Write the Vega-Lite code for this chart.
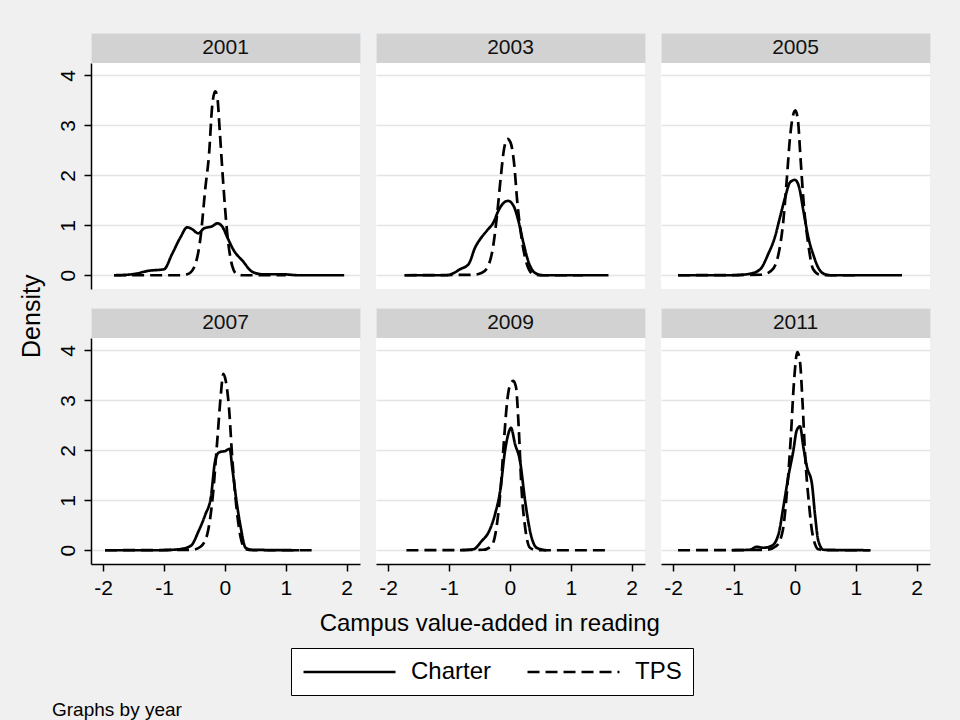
{
  "$schema": "https://vega.github.io/schema/vega-lite/v6.json",
  "background": "#f0f0f0",
  "padding": {"left": 20, "top": 32, "right": 30, "bottom": 0},
  "title": {"text": "Graphs by year", "orient": "bottom", "anchor": "start", "frame": "bounds", "dx": 32, "offset": 5, "fontSize": 19, "fontWeight": "normal", "color": "black", "font": "Liberation Sans"},
  "config": {
    "font": "Liberation Sans",
    "view": {"fill": "white", "stroke": null},
    "axis": {"domainColor": "black", "tickColor": "black", "domainWidth": 1.5, "tickWidth": 1.5, "tickSize": 7, "labelFontSize": 21, "labelColor": "black", "gridColor": "#e4e4e4", "gridWidth": 1.6, "titleFontWeight": "normal", "titleColor": "black", "titleFontSize": 24},
    "legend": {"orient": "none", "direction": "horizontal", "symbolType": "M-1,0H7", "symbolSize": 529, "symbolStrokeWidth": 4, "symbolStrokeColor": "black", "labelFontSize": 24, "labelColor": "black", "labelOffset": 83, "columnPadding": 30, "padding": 11, "strokeColor": "black", "fillColor": "white"},
    "title": {"color": "black", "fontWeight": "normal", "font": "Liberation Sans"},
    "line": {"color": "black", "interpolate": "monotone", "strokeWidth": 2.7}
  },
  "datasets": {
    "density": [
      {"year":"2001","type":"Charter","x":-1.82,"density":0},
      {"year":"2001","type":"Charter","x":-1.52,"density":0.02},
      {"year":"2001","type":"Charter","x":-1.25,"density":0.09},
      {"year":"2001","type":"Charter","x":-1.0,"density":0.12},
      {"year":"2001","type":"Charter","x":-0.87,"density":0.42},
      {"year":"2001","type":"Charter","x":-0.73,"density":0.76},
      {"year":"2001","type":"Charter","x":-0.62,"density":0.96},
      {"year":"2001","type":"Charter","x":-0.535,"density":0.92},
      {"year":"2001","type":"Charter","x":-0.44,"density":0.84},
      {"year":"2001","type":"Charter","x":-0.34,"density":0.94},
      {"year":"2001","type":"Charter","x":-0.21,"density":0.98},
      {"year":"2001","type":"Charter","x":-0.125,"density":1.04},
      {"year":"2001","type":"Charter","x":-0.04,"density":0.97},
      {"year":"2001","type":"Charter","x":0.04,"density":0.76},
      {"year":"2001","type":"Charter","x":0.15,"density":0.49},
      {"year":"2001","type":"Charter","x":0.29,"density":0.29},
      {"year":"2001","type":"Charter","x":0.45,"density":0.07},
      {"year":"2001","type":"Charter","x":0.62,"density":0.02},
      {"year":"2001","type":"Charter","x":0.94,"density":0.02},
      {"year":"2001","type":"Charter","x":1.22,"density":0},
      {"year":"2001","type":"Charter","x":1.96,"density":0},
      {"year":"2001","type":"TPS","x":-1.82,"density":0},
      {"year":"2001","type":"TPS","x":-0.76,"density":0},
      {"year":"2001","type":"TPS","x":-0.62,"density":0.02},
      {"year":"2001","type":"TPS","x":-0.51,"density":0.15},
      {"year":"2001","type":"TPS","x":-0.40,"density":0.76},
      {"year":"2001","type":"TPS","x":-0.32,"density":1.76},
      {"year":"2001","type":"TPS","x":-0.26,"density":2.43},
      {"year":"2001","type":"TPS","x":-0.21,"density":3.37},
      {"year":"2001","type":"TPS","x":-0.16,"density":3.68},
      {"year":"2001","type":"TPS","x":-0.125,"density":3.57},
      {"year":"2001","type":"TPS","x":-0.085,"density":2.9},
      {"year":"2001","type":"TPS","x":-0.03,"density":1.89},
      {"year":"2001","type":"TPS","x":0.04,"density":0.82},
      {"year":"2001","type":"TPS","x":0.12,"density":0.19},
      {"year":"2001","type":"TPS","x":0.2,"density":0.02},
      {"year":"2001","type":"TPS","x":0.3,"density":0},
      {"year":"2001","type":"TPS","x":1.0,"density":0},
      {"year":"2003","type":"Charter","x":-1.73,"density":0},
      {"year":"2003","type":"Charter","x":-1.04,"density":0},
      {"year":"2003","type":"Charter","x":-0.95,"density":0.03},
      {"year":"2003","type":"Charter","x":-0.82,"density":0.12},
      {"year":"2003","type":"Charter","x":-0.68,"density":0.22},
      {"year":"2003","type":"Charter","x":-0.57,"density":0.56},
      {"year":"2003","type":"Charter","x":-0.49,"density":0.72},
      {"year":"2003","type":"Charter","x":-0.38,"density":0.89},
      {"year":"2003","type":"Charter","x":-0.27,"density":1.06},
      {"year":"2003","type":"Charter","x":-0.19,"density":1.29},
      {"year":"2003","type":"Charter","x":-0.11,"density":1.44},
      {"year":"2003","type":"Charter","x":-0.03,"density":1.49},
      {"year":"2003","type":"Charter","x":0.06,"density":1.39},
      {"year":"2003","type":"Charter","x":0.14,"density":1.09},
      {"year":"2003","type":"Charter","x":0.22,"density":0.66},
      {"year":"2003","type":"Charter","x":0.30,"density":0.29},
      {"year":"2003","type":"Charter","x":0.41,"density":0.05},
      {"year":"2003","type":"Charter","x":0.55,"density":0},
      {"year":"2003","type":"Charter","x":1.62,"density":0},
      {"year":"2003","type":"TPS","x":-1.73,"density":0},
      {"year":"2003","type":"TPS","x":-0.6,"density":0.01},
      {"year":"2003","type":"TPS","x":-0.46,"density":0.05},
      {"year":"2003","type":"TPS","x":-0.355,"density":0.19},
      {"year":"2003","type":"TPS","x":-0.27,"density":0.62},
      {"year":"2003","type":"TPS","x":-0.21,"density":1.22},
      {"year":"2003","type":"TPS","x":-0.15,"density":1.96},
      {"year":"2003","type":"TPS","x":-0.10,"density":2.5},
      {"year":"2003","type":"TPS","x":-0.04,"density":2.73},
      {"year":"2003","type":"TPS","x":0.01,"density":2.66},
      {"year":"2003","type":"TPS","x":0.07,"density":2.23},
      {"year":"2003","type":"TPS","x":0.12,"density":1.49},
      {"year":"2003","type":"TPS","x":0.19,"density":0.76},
      {"year":"2003","type":"TPS","x":0.28,"density":0.22},
      {"year":"2003","type":"TPS","x":0.385,"density":0.02},
      {"year":"2003","type":"TPS","x":0.5,"density":0},
      {"year":"2003","type":"TPS","x":1.2,"density":0},
      {"year":"2005","type":"Charter","x":-1.92,"density":0},
      {"year":"2005","type":"Charter","x":-1.01,"density":0},
      {"year":"2005","type":"Charter","x":-0.74,"density":0.03},
      {"year":"2005","type":"Charter","x":-0.57,"density":0.12},
      {"year":"2005","type":"Charter","x":-0.44,"density":0.42},
      {"year":"2005","type":"Charter","x":-0.33,"density":0.76},
      {"year":"2005","type":"Charter","x":-0.245,"density":1.16},
      {"year":"2005","type":"Charter","x":-0.16,"density":1.56},
      {"year":"2005","type":"Charter","x":-0.08,"density":1.86},
      {"year":"2005","type":"Charter","x":0.0,"density":1.91},
      {"year":"2005","type":"Charter","x":0.07,"density":1.76},
      {"year":"2005","type":"Charter","x":0.14,"density":1.29},
      {"year":"2005","type":"Charter","x":0.22,"density":0.76},
      {"year":"2005","type":"Charter","x":0.30,"density":0.42},
      {"year":"2005","type":"Charter","x":0.385,"density":0.15},
      {"year":"2005","type":"Charter","x":0.495,"density":0.02},
      {"year":"2005","type":"Charter","x":0.6,"density":0},
      {"year":"2005","type":"Charter","x":1.76,"density":0},
      {"year":"2005","type":"TPS","x":-1.92,"density":0},
      {"year":"2005","type":"TPS","x":-0.55,"density":0.01},
      {"year":"2005","type":"TPS","x":-0.38,"density":0.1},
      {"year":"2005","type":"TPS","x":-0.27,"density":0.42},
      {"year":"2005","type":"TPS","x":-0.19,"density":1.09},
      {"year":"2005","type":"TPS","x":-0.135,"density":1.89},
      {"year":"2005","type":"TPS","x":-0.08,"density":2.76},
      {"year":"2005","type":"TPS","x":-0.036,"density":3.17},
      {"year":"2005","type":"TPS","x":0.007,"density":3.30},
      {"year":"2005","type":"TPS","x":0.05,"density":3.10},
      {"year":"2005","type":"TPS","x":0.095,"density":2.3},
      {"year":"2005","type":"TPS","x":0.15,"density":1.36},
      {"year":"2005","type":"TPS","x":0.22,"density":0.62},
      {"year":"2005","type":"TPS","x":0.30,"density":0.12},
      {"year":"2005","type":"TPS","x":0.41,"density":0.01},
      {"year":"2005","type":"TPS","x":0.5,"density":0},
      {"year":"2005","type":"TPS","x":1.0,"density":0},
      {"year":"2007","type":"Charter","x":-1.97,"density":0},
      {"year":"2007","type":"Charter","x":-1.08,"density":0},
      {"year":"2007","type":"Charter","x":-0.755,"density":0.02},
      {"year":"2007","type":"Charter","x":-0.56,"density":0.09},
      {"year":"2007","type":"Charter","x":-0.43,"density":0.39},
      {"year":"2007","type":"Charter","x":-0.32,"density":0.72},
      {"year":"2007","type":"Charter","x":-0.23,"density":1.06},
      {"year":"2007","type":"Charter","x":-0.16,"density":1.79},
      {"year":"2007","type":"Charter","x":-0.097,"density":1.96},
      {"year":"2007","type":"Charter","x":0.01,"density":1.99},
      {"year":"2007","type":"Charter","x":0.08,"density":2.03},
      {"year":"2007","type":"Charter","x":0.12,"density":1.66},
      {"year":"2007","type":"Charter","x":0.19,"density":0.99},
      {"year":"2007","type":"Charter","x":0.26,"density":0.46},
      {"year":"2007","type":"Charter","x":0.34,"density":0.05},
      {"year":"2007","type":"Charter","x":0.45,"density":0.01},
      {"year":"2007","type":"Charter","x":1.22,"density":0},
      {"year":"2007","type":"TPS","x":-1.97,"density":0},
      {"year":"2007","type":"TPS","x":-0.535,"density":0.01},
      {"year":"2007","type":"TPS","x":-0.40,"density":0.07},
      {"year":"2007","type":"TPS","x":-0.29,"density":0.32},
      {"year":"2007","type":"TPS","x":-0.196,"density":1.12},
      {"year":"2007","type":"TPS","x":-0.125,"density":2.2},
      {"year":"2007","type":"TPS","x":-0.07,"density":3.07},
      {"year":"2007","type":"TPS","x":-0.026,"density":3.53},
      {"year":"2007","type":"TPS","x":0.013,"density":3.4},
      {"year":"2007","type":"TPS","x":0.067,"density":2.86},
      {"year":"2007","type":"TPS","x":0.12,"density":1.86},
      {"year":"2007","type":"TPS","x":0.19,"density":0.86},
      {"year":"2007","type":"TPS","x":0.26,"density":0.25},
      {"year":"2007","type":"TPS","x":0.34,"density":0.02},
      {"year":"2007","type":"TPS","x":0.45,"density":0},
      {"year":"2007","type":"TPS","x":1.43,"density":0},
      {"year":"2009","type":"Charter","x":-0.82,"density":0},
      {"year":"2009","type":"Charter","x":-0.60,"density":0.02},
      {"year":"2009","type":"Charter","x":-0.46,"density":0.19},
      {"year":"2009","type":"Charter","x":-0.355,"density":0.35},
      {"year":"2009","type":"Charter","x":-0.245,"density":0.72},
      {"year":"2009","type":"Charter","x":-0.16,"density":1.19},
      {"year":"2009","type":"Charter","x":-0.08,"density":1.99},
      {"year":"2009","type":"Charter","x":-0.026,"density":2.33},
      {"year":"2009","type":"Charter","x":0.018,"density":2.45},
      {"year":"2009","type":"Charter","x":0.084,"density":2.13},
      {"year":"2009","type":"Charter","x":0.166,"density":1.79},
      {"year":"2009","type":"Charter","x":0.25,"density":0.99},
      {"year":"2009","type":"Charter","x":0.33,"density":0.39},
      {"year":"2009","type":"Charter","x":0.44,"density":0.05},
      {"year":"2009","type":"Charter","x":0.6,"density":0},
      {"year":"2009","type":"TPS","x":-1.70,"density":0},
      {"year":"2009","type":"TPS","x":-0.44,"density":0.01},
      {"year":"2009","type":"TPS","x":-0.30,"density":0.09},
      {"year":"2009","type":"TPS","x":-0.22,"density":0.46},
      {"year":"2009","type":"TPS","x":-0.15,"density":1.26},
      {"year":"2009","type":"TPS","x":-0.097,"density":2.2},
      {"year":"2009","type":"TPS","x":-0.043,"density":3.0},
      {"year":"2009","type":"TPS","x":0.0,"density":3.3},
      {"year":"2009","type":"TPS","x":0.056,"density":3.39},
      {"year":"2009","type":"TPS","x":0.1,"density":3.27},
      {"year":"2009","type":"TPS","x":0.145,"density":2.46},
      {"year":"2009","type":"TPS","x":0.19,"density":1.26},
      {"year":"2009","type":"TPS","x":0.25,"density":0.46},
      {"year":"2009","type":"TPS","x":0.33,"density":0.05},
      {"year":"2009","type":"TPS","x":0.44,"density":0},
      {"year":"2009","type":"TPS","x":1.62,"density":0},
      {"year":"2011","type":"Charter","x":-1.04,"density":0},
      {"year":"2011","type":"Charter","x":-0.74,"density":0.01},
      {"year":"2011","type":"Charter","x":-0.63,"density":0.07},
      {"year":"2011","type":"Charter","x":-0.52,"density":0.05},
      {"year":"2011","type":"Charter","x":-0.38,"density":0.09},
      {"year":"2011","type":"Charter","x":-0.27,"density":0.32},
      {"year":"2011","type":"Charter","x":-0.19,"density":0.86},
      {"year":"2011","type":"Charter","x":-0.11,"density":1.46},
      {"year":"2011","type":"Charter","x":-0.026,"density":1.99},
      {"year":"2011","type":"Charter","x":0.03,"density":2.40},
      {"year":"2011","type":"Charter","x":0.084,"density":2.48},
      {"year":"2011","type":"Charter","x":0.14,"density":2.06},
      {"year":"2011","type":"Charter","x":0.2,"density":1.66},
      {"year":"2011","type":"Charter","x":0.28,"density":1.33},
      {"year":"2011","type":"Charter","x":0.33,"density":0.72},
      {"year":"2011","type":"Charter","x":0.385,"density":0.19},
      {"year":"2011","type":"Charter","x":0.47,"density":0.01},
      {"year":"2011","type":"Charter","x":1.24,"density":0},
      {"year":"2011","type":"TPS","x":-1.92,"density":0},
      {"year":"2011","type":"TPS","x":-0.46,"density":0.01},
      {"year":"2011","type":"TPS","x":-0.30,"density":0.09},
      {"year":"2011","type":"TPS","x":-0.2,"density":0.39},
      {"year":"2011","type":"TPS","x":-0.125,"density":1.26},
      {"year":"2011","type":"TPS","x":-0.07,"density":2.2},
      {"year":"2011","type":"TPS","x":-0.015,"density":3.37},
      {"year":"2011","type":"TPS","x":0.04,"density":3.97},
      {"year":"2011","type":"TPS","x":0.084,"density":3.77},
      {"year":"2011","type":"TPS","x":0.128,"density":2.9},
      {"year":"2011","type":"TPS","x":0.17,"density":1.86},
      {"year":"2011","type":"TPS","x":0.227,"density":0.99},
      {"year":"2011","type":"TPS","x":0.29,"density":0.32},
      {"year":"2011","type":"TPS","x":0.385,"density":0.02},
      {"year":"2011","type":"TPS","x":0.5,"density":0},
      {"year":"2011","type":"TPS","x":1.24,"density":0}
    ]
  },
  "vconcat": [
    {
      "title": {"text": "Density", "orient": "left", "anchor": "middle", "frame": "bounds", "offset": 12, "fontSize": 25, "dx": 18},
      "hconcat": [
        {
          "title": {"text": "Campus value-added in reading", "orient": "bottom", "anchor": "middle", "frame": "bounds", "offset": 14, "fontSize": 24, "dx": -4},
          "vconcat": [
            {
              "hconcat": [
                {"vconcat": [
                  {"width": 269, "height": 30, "view": {"fill": "#d2d2d2", "stroke": "#dfe5e9"}, "data": {"values": [{"year": "2001"}]}, "mark": {"type": "text", "fontSize": 21, "color": "#111111"}, "encoding": {"text": {"field": "year"}}},
                  {"width": 269, "height": 226, "data": {"name": "density"}, "transform": [{"filter": "datum.year == '2001'"}], "mark": {"type": "line"},
                   "encoding": {
                     "x": {"field": "x", "type": "quantitative", "scale": {"domain": [-2.2, 2.22], "nice": false, "zero": false}, "axis": null},
                     "y": {"field": "density", "type": "quantitative", "scale": {"domain": [-0.275, 4.25], "nice": false, "zero": false}, "axis": {"values": [0, 1, 2, 3, 4], "title": null, "labelAngle": -90, "labelAlign": "center", "labelBaseline": "bottom", "labelPadding": 6, "grid": true}},
                     "strokeDash": {"field": "type", "type": "nominal", "scale": {"domain": ["Charter", "TPS"], "range": [[1, 0], [12, 6]]}, "legend": {"title": null, "legendX": 200, "legendY": 615, "symbolStrokeWidth": 4, "encode": {"symbols": {"update": {"strokeWidth": {"value": 4}}}, "legend": {"update": {"strokeWidth": {"value": 2}}}}}}
                   }}
                ], "spacing": 0, "bounds": "flush"},
                {"vconcat": [
                  {"width": 269, "height": 30, "view": {"fill": "#d2d2d2", "stroke": "#dfe5e9"}, "data": {"values": [{"year": "2003"}]}, "mark": {"type": "text", "fontSize": 21, "color": "#111111"}, "encoding": {"text": {"field": "year"}}},
                  {"width": 269, "height": 226, "data": {"name": "density"}, "transform": [{"filter": "datum.year == '2003'"}], "mark": {"type": "line"},
                   "encoding": {
                     "x": {"field": "x", "type": "quantitative", "scale": {"domain": [-2.2, 2.22], "nice": false, "zero": false}, "axis": null},
                     "y": {"field": "density", "type": "quantitative", "scale": {"domain": [-0.275, 4.25], "nice": false, "zero": false}, "axis": {"values": [0, 1, 2, 3, 4], "title": null, "domain": false, "ticks": false, "labels": false, "grid": true}},
                     "strokeDash": {"field": "type", "type": "nominal", "scale": {"domain": ["Charter", "TPS"], "range": [[1, 0], [12, 6]]}, "legend": {"title": null, "legendX": 200, "legendY": 615, "symbolStrokeWidth": 4, "encode": {"symbols": {"update": {"strokeWidth": {"value": 4}}}, "legend": {"update": {"strokeWidth": {"value": 2}}}}}}
                   }}
                ], "spacing": 0, "bounds": "flush"},
                {"vconcat": [
                  {"width": 269, "height": 30, "view": {"fill": "#d2d2d2", "stroke": "#dfe5e9"}, "data": {"values": [{"year": "2005"}]}, "mark": {"type": "text", "fontSize": 21, "color": "#111111"}, "encoding": {"text": {"field": "year"}}},
                  {"width": 269, "height": 226, "data": {"name": "density"}, "transform": [{"filter": "datum.year == '2005'"}], "mark": {"type": "line"},
                   "encoding": {
                     "x": {"field": "x", "type": "quantitative", "scale": {"domain": [-2.2, 2.22], "nice": false, "zero": false}, "axis": null},
                     "y": {"field": "density", "type": "quantitative", "scale": {"domain": [-0.275, 4.25], "nice": false, "zero": false}, "axis": {"values": [0, 1, 2, 3, 4], "title": null, "domain": false, "ticks": false, "labels": false, "grid": true}},
                     "strokeDash": {"field": "type", "type": "nominal", "scale": {"domain": ["Charter", "TPS"], "range": [[1, 0], [12, 6]]}, "legend": {"title": null, "legendX": 200, "legendY": 615, "symbolStrokeWidth": 4, "encode": {"symbols": {"update": {"strokeWidth": {"value": 4}}}, "legend": {"update": {"strokeWidth": {"value": 2}}}}}}
                   }}
                ], "spacing": 0, "bounds": "flush"}
              ],
              "spacing": 14
            },
            {
              "hconcat": [
                {"vconcat": [
                  {"width": 269, "height": 30, "view": {"fill": "#d2d2d2", "stroke": "#dfe5e9"}, "data": {"values": [{"year": "2007"}]}, "mark": {"type": "text", "fontSize": 21, "color": "#111111"}, "encoding": {"text": {"field": "year"}}},
                  {"width": 269, "height": 226, "data": {"name": "density"}, "transform": [{"filter": "datum.year == '2007'"}], "mark": {"type": "line"},
                   "encoding": {
                     "x": {"field": "x", "type": "quantitative", "scale": {"domain": [-2.2, 2.22], "nice": false, "zero": false}, "axis": {"values": [-2, -1, 0, 1, 2], "title": null, "grid": false, "labelPadding": 6, "labelExpr": "'' + datum.value"}},
                     "y": {"field": "density", "type": "quantitative", "scale": {"domain": [-0.275, 4.25], "nice": false, "zero": false}, "axis": {"values": [0, 1, 2, 3, 4], "title": null, "labelAngle": -90, "labelAlign": "center", "labelBaseline": "bottom", "labelPadding": 6, "grid": true}},
                     "strokeDash": {"field": "type", "type": "nominal", "scale": {"domain": ["Charter", "TPS"], "range": [[1, 0], [12, 6]]}, "legend": {"title": null, "legendX": 200, "legendY": 615, "symbolStrokeWidth": 4, "encode": {"symbols": {"update": {"strokeWidth": {"value": 4}}}, "legend": {"update": {"strokeWidth": {"value": 2}}}}}}
                   }}
                ], "spacing": 0, "bounds": "flush"},
                {"vconcat": [
                  {"width": 269, "height": 30, "view": {"fill": "#d2d2d2", "stroke": "#dfe5e9"}, "data": {"values": [{"year": "2009"}]}, "mark": {"type": "text", "fontSize": 21, "color": "#111111"}, "encoding": {"text": {"field": "year"}}},
                  {"width": 269, "height": 226, "data": {"name": "density"}, "transform": [{"filter": "datum.year == '2009'"}], "mark": {"type": "line"},
                   "encoding": {
                     "x": {"field": "x", "type": "quantitative", "scale": {"domain": [-2.2, 2.22], "nice": false, "zero": false}, "axis": {"values": [-2, -1, 0, 1, 2], "title": null, "grid": false, "labelPadding": 6, "labelExpr": "'' + datum.value"}},
                     "y": {"field": "density", "type": "quantitative", "scale": {"domain": [-0.275, 4.25], "nice": false, "zero": false}, "axis": {"values": [0, 1, 2, 3, 4], "title": null, "domain": false, "ticks": false, "labels": false, "grid": true}},
                     "strokeDash": {"field": "type", "type": "nominal", "scale": {"domain": ["Charter", "TPS"], "range": [[1, 0], [12, 6]]}, "legend": {"title": null, "legendX": 200, "legendY": 615, "symbolStrokeWidth": 4, "encode": {"symbols": {"update": {"strokeWidth": {"value": 4}}}, "legend": {"update": {"strokeWidth": {"value": 2}}}}}}
                   }}
                ], "spacing": 0, "bounds": "flush"},
                {"vconcat": [
                  {"width": 269, "height": 30, "view": {"fill": "#d2d2d2", "stroke": "#dfe5e9"}, "data": {"values": [{"year": "2011"}]}, "mark": {"type": "text", "fontSize": 21, "color": "#111111"}, "encoding": {"text": {"field": "year"}}},
                  {"width": 269, "height": 226, "data": {"name": "density"}, "transform": [{"filter": "datum.year == '2011'"}], "mark": {"type": "line"},
                   "encoding": {
                     "x": {"field": "x", "type": "quantitative", "scale": {"domain": [-2.2, 2.22], "nice": false, "zero": false}, "axis": {"values": [-2, -1, 0, 1, 2], "title": null, "grid": false, "labelPadding": 6, "labelExpr": "'' + datum.value"}},
                     "y": {"field": "density", "type": "quantitative", "scale": {"domain": [-0.275, 4.25], "nice": false, "zero": false}, "axis": {"values": [0, 1, 2, 3, 4], "title": null, "domain": false, "ticks": false, "labels": false, "grid": true}},
                     "strokeDash": {"field": "type", "type": "nominal", "scale": {"domain": ["Charter", "TPS"], "range": [[1, 0], [12, 6]]}, "legend": {"title": null, "legendX": 200, "legendY": 615, "symbolStrokeWidth": 4, "encode": {"symbols": {"update": {"strokeWidth": {"value": 4}}}, "legend": {"update": {"strokeWidth": {"value": 2}}}}}}
                   }}
                ], "spacing": 0, "bounds": "flush"}
              ],
              "spacing": 14
            }
          ],
          "spacing": 18
        }
      ]
    }
  ]
}
